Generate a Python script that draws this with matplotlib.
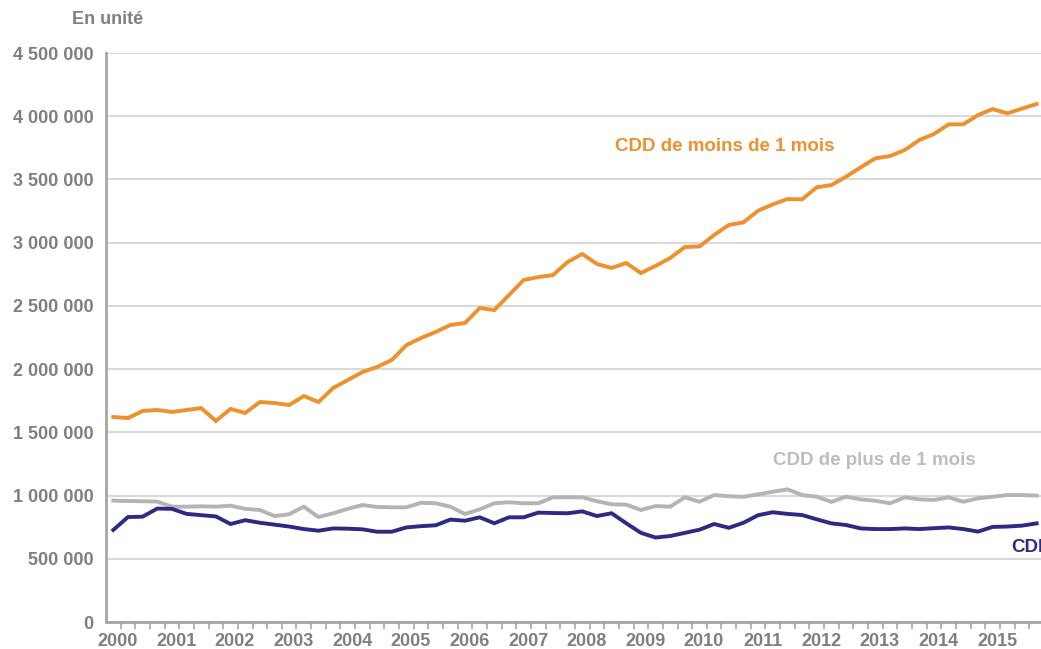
import matplotlib
matplotlib.use("Agg")
import matplotlib.pyplot as plt
import numpy as np
from matplotlib.ticker import FuncFormatter

# trimestres 2000T1 .. 2015T4
YEARS = list(range(2000, 2016))

CDD_MOINS_1_MOIS = [
    1621000, 1613000, 1669000, 1677000, 1661000, 1677000, 1692000, 1590000,
    1685000, 1653000, 1740000, 1732000, 1716000, 1787000, 1740000, 1851000,
    1914000, 1977000, 2017000, 2072000, 2190000, 2246000, 2294000, 2349000,
    2365000, 2483000, 2467000, 2586000, 2705000, 2728000, 2744000, 2847000,
    2911000, 2831000, 2800000, 2839000, 2760000, 2816000, 2879000, 2966000,
    2970000, 3061000, 3140000, 3161000, 3253000, 3303000, 3345000, 3343000,
    3438000, 3456000, 3522000, 3596000, 3667000, 3685000, 3733000, 3812000,
    3860000, 3936000, 3936000, 4009000, 4057000, 4023000, 4060000, 4097000,
]

CDD_PLUS_1_MOIS = [
    960000, 957000, 955000, 952000, 912000, 912000, 915000, 912000,
    920000, 895000, 886000, 838000, 852000, 912000, 830000, 860000,
    895000, 925000, 910000, 907000, 907000, 943000, 939000, 912000,
    854000, 891000, 939000, 947000, 939000, 939000, 986000, 986000,
    986000, 955000, 931000, 928000, 886000, 917000, 912000, 986000,
    951000, 1004000, 995000, 990000, 1010000, 1030000, 1049000, 1004000,
    991000, 950000, 991000, 970000, 959000, 939000, 986000, 970000,
    965000, 986000, 951000, 978000, 990000, 1004000, 1004000, 1000000,
]

CDI = [
    728000, 830000, 833000, 897000, 895000, 855000, 845000, 835000,
    775000, 805000, 785000, 770000, 755000, 735000, 722000, 740000,
    738000, 733000, 714000, 714000, 748000, 758000, 765000, 810000,
    801000, 828000, 781000, 828000, 828000, 865000, 862000, 860000,
    875000, 838000, 860000, 781000, 705000, 668000, 680000, 705000,
    730000, 775000, 745000, 785000, 845000, 868000, 855000, 846000,
    812000, 780000, 767000, 740000, 735000, 735000, 740000, 735000,
    742000, 748000, 735000, 715000, 752000, 755000, 762000, 780000,
]

ORANGE = "#EE912D"
GREY = "#B4B4B4"
NAVY = "#2D2A84"
TEXT_GREY = "#7F7F7F"
GRID = "#D9D9D9"

plt.rcParams.update({
    "font.family": ["Liberation Sans", "DejaVu Sans"],
    "font.weight": "bold",
})

fig = plt.figure(figsize=(10.41, 6.49), dpi=100)
ax = fig.add_axes([0.1018, 0.0416, 0.901, 0.8767])

x = np.arange(len(CDD_MOINS_1_MOIS))
ax.plot(x, CDD_PLUS_1_MOIS, color=GREY, linewidth=2.8, solid_joinstyle="miter", zorder=3)
ax.plot(x, CDI, color=NAVY, linewidth=2.8, solid_joinstyle="miter", zorder=4)
ax.plot(x, CDD_MOINS_1_MOIS, color=ORANGE, linewidth=2.8, solid_joinstyle="miter", zorder=5)

ax.set_xlim(-0.5, len(x) - 0.5)
ax.set_ylim(0, 4500000)
ax.set_yticks(np.arange(0, 4500001, 500000))
ax.yaxis.set_major_formatter(FuncFormatter(lambda v, _: f"{int(v):,}".replace(",", " ")))
ax.yaxis.grid(True, color=GRID, linewidth=1.5)
ax.set_axisbelow(True)

# libellés des années, ticks trimestriels entre catégories
ax.set_xticks(np.arange(0, len(x), 4) + 0.3, labels=[str(y) for y in YEARS])
ax.set_xticks(np.arange(0.5, len(x), 1), minor=True)
ax.tick_params(axis="x", which="major", length=0, pad=8, labelsize=13, labelcolor=TEXT_GREY)
ax.tick_params(axis="x", which="minor", length=5, width=1.2, color="#A6A6A6")
ax.tick_params(axis="y", length=0, pad=9, labelsize=13, labelcolor=TEXT_GREY)

for side in ("top", "right"):
    ax.spines[side].set_visible(False)
for side in ("left", "bottom"):
    ax.spines[side].set_color("#A6A6A6")
    ax.spines[side].set_linewidth(2)

fig.text(72 / 1041, 1 - 20 / 649, "En unité", fontsize=13, color=TEXT_GREY,
         ha="left", va="center", fontweight="bold")

ax.text(41.7, 3760000, "CDD de moins de 1 mois", color=ORANGE, fontsize=13.5,
        ha="center", va="center", fontweight="bold")
ax.text(51.9, 1275000, "CDD de plus de 1 mois", color="#BDBDBD", fontsize=13.5,
        ha="center", va="center", fontweight="bold")
ax.text(61.3, 590000, "CDI", color=NAVY, fontsize=13.5,
        ha="left", va="center", fontweight="bold", clip_on=False)

fig.savefig("out.png", dpi=100)
